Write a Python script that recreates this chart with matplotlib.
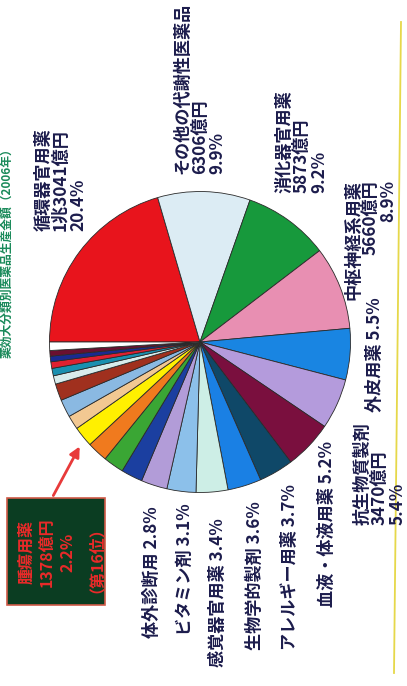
import matplotlib.pyplot as plt
from matplotlib.patches import Rectangle

plt.rcParams['font.family'] = ['Noto Sans CJK JP', 'DejaVu Sans']

# shares of production value (%), clockwise from the red wedge
categories = ['循環器官用薬', 'その他の代謝性医薬品', '消化器官用薬', '中枢神経系用薬',
              '外皮用薬', '抗生物質製剤', '血液・体液用薬', 'アレルギー用薬',
              '生物学的製剤', '感覚器官用薬', 'ビタミン剤', '体外診断用',
              '呼吸器官用薬', '泌尿生殖器官用薬', 'ホルモン剤', '腫瘍用薬',
              '化学療法剤', '漢方製剤', '滋養強壮薬', '診断用薬', '生薬',
              '放射性医薬品', '歯科口腔用薬', '寄生動物用薬', 'その他']
shares = [20.4, 9.9, 9.2, 8.9, 5.5, 5.4, 5.2, 3.7, 3.6, 3.4, 3.1, 2.8,
          2.3, 2.2, 2.2, 2.2, 1.5, 1.9, 1.8, 0.9, 0.8, 0.7, 0.6, 0.6, 0.9]
amounts = {'循環器官用薬': '1兆3041億円', 'その他の代謝性医薬品': '6306億円',
           '消化器官用薬': '5873億円', '中枢神経系用薬': '5660億円',
           '抗生物質製剤': '3470億円', '腫瘍用薬': '1378億円'}
colors = ['#e8141c', '#dcecf4', '#17993c', '#e88fb2', '#1985e2', '#b49bdc',
          '#7a0f3e', '#0f4868', '#1a80e4', '#cdeee6', '#8cc0ea', '#b29cd8',
          '#1b3fa0', '#3aa634', '#f07a1e', '#fff000', '#f2c892', '#8ab9e2',
          '#a0301e', '#d8ecec', '#1a90b0', '#e02030', '#1a2a90', '#6a1030',
          '#ffffff']

W, H = 407, 686
fig = plt.figure(figsize=(W / 100, H / 100), dpi=100)

# pie: centre (200, 342) px, radius 152 px
cx, cy, r = 200, 342, 152
pax = fig.add_axes([(cx - r) / W, (H - cy - r) / H, 2 * r / W, 2 * r / H])
pax.pie(shares, colors=colors, startangle=180, counterclock=False,
        wedgeprops=dict(edgecolor='#2a2a2a', linewidth=0.6))
pax.set_xlim(-1.01, 1.01)
pax.set_ylim(-1.01, 1.01)
pax.axis('off')

# overlay in pixel coordinates
tx = fig.add_axes([0, 0, 1, 1], zorder=5)
tx.set_xlim(0, W)
tx.set_ylim(H, 0)
tx.axis('off')
tx.patch.set_alpha(0)

navy = '#1c1c4c'
lab = dict(rotation=90, color=navy, fontsize=12.3, fontweight='bold', linespacing=0.95)


def pct(name):
    return f'{shares[categories.index(name)]}%'


def three(name):
    return f'{name}\n{amounts[name]}\n{pct(name)}'


tx.text(61, 231, three('循環器官用薬'), ha='center', va='bottom', multialignment='left', **lab)
tx.text(200, 174, three('その他の代謝性医薬品'), ha='center', va='bottom', multialignment='left', **lab)
tx.text(302, 193, three('消化器官用薬'), ha='center', va='bottom', multialignment='left', **lab)
tx.text(371, 180, three('中枢神経系用薬'), ha='center', va='top', multialignment='right', **lab)
tx.text(375, 412, f'外皮用薬 {pct("外皮用薬")}', ha='center', va='bottom', **lab)
tx.text(380, 525, three('抗生物質製剤'), ha='center', va='bottom', multialignment='left', **lab)

lower = [('血液・体液用薬', 327, 607), ('アレルギー用薬', 290, 650),
         ('生物学的製剤', 255, 650), ('感覚器官用薬', 218, 667),
         ('ビタミン剤', 185, 635), ('体外診断用', 152, 638)]
for name, x, y in lower:
    tx.text(x, y, f'{name} {pct(name)}', ha='center', va='bottom', **lab)

# highlighted box for rank 16
tx.add_patch(Rectangle((7, 498), 98, 107, facecolor='#0b3d22', edgecolor='#d05a48', lw=1.2))
tx.text(57, 552, f'腫瘍用薬\n{amounts["腫瘍用薬"]}\n{pct("腫瘍用薬")}\n（第16位）',
        rotation=90, ha='center', va='center', multialignment='center',
        color='#ea2a2a', fontsize=11.5, fontweight='bold', linespacing=1.35)
tx.annotate('', xy=(81, 444), xytext=(52, 498),
            arrowprops=dict(arrowstyle='-|>,head_length=0.6,head_width=0.3',
                            color='#e83a3a', lw=2))

# title on the left edge (mostly cut off in the scan)
tx.text(7, 250, '薬効大分類別医薬品生産金額（2006年）', rotation=90, ha='center',
        va='center', color='#1a8a5a', fontsize=8.5, fontweight='bold')

# yellow rule on the right
tx.plot([401, 394], [22, 673], color='#e6d84a', lw=1.3)

fig.savefig('out.png', dpi=100)
